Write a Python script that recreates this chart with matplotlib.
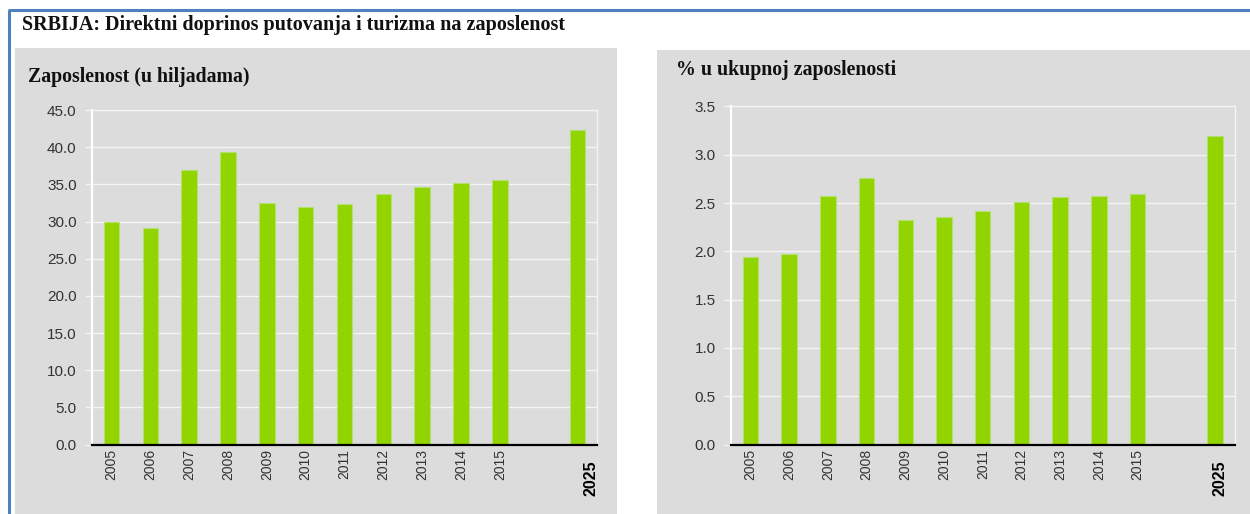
import matplotlib
matplotlib.use("Agg")
import matplotlib.pyplot as plt
from matplotlib.patches import Rectangle
from matplotlib.lines import Line2D
import matplotlib.transforms as mtransforms

# ---- data ----
years = ["2005", "2006", "2007", "2008", "2009", "2010", "2011",
         "2012", "2013", "2014", "2015", "", "2025"]
employment = [29.9, 29.1, 36.9, 39.4, 32.5, 32.0, 32.4, 33.7, 34.6, 35.2, 35.6, None, 42.3]
share = [1.94, 1.97, 2.57, 2.76, 2.32, 2.36, 2.42, 2.51, 2.56, 2.57, 2.59, None, 3.19]

main_title = "SRBIJA: Direktni doprinos putovanja i turizma na zaposlenost"
left_title = "Zaposlenost (u hiljadama)"
right_title = "% u ukupnoj zaposlenosti"
left_ticks = [0, 5, 10, 15, 20, 25, 30, 35, 40, 45]
right_ticks = [0, 0.5, 1.0, 1.5, 2.0, 2.5, 3.0, 3.5]

W, H = 1250, 514
fig = plt.figure(figsize=(W / 100, H / 100), dpi=100)
fig.patch.set_facecolor("white")


def fx(x):
    return x / W


def fy(y):
    return 1 - y / H


def box(x0, y0, x1, y1):
    return [fx(x0), fy(y1), fx(x1) - fx(x0), fy(y0) - fy(y1)]


BG = "#dcdcdc"
GREEN = "#92d400"
EDGE = "#b4e070"
BLUE = "#4f81bd"

# gray panels
fig.add_artist(Rectangle((fx(15), fy(514)), fx(617) - fx(15), fy(48) - fy(514),
                         transform=fig.transFigure, facecolor=BG, edgecolor="none", zorder=0))
fig.add_artist(Rectangle((fx(657), fy(514)), fx(1250) - fx(657), fy(50) - fy(514),
                         transform=fig.transFigure, facecolor=BG, edgecolor="none", zorder=0))

# blue frame
fig.add_artist(Line2D([fx(9), fx(9)], [fy(10), fy(514)], transform=fig.transFigure,
                      color=BLUE, lw=2.2, solid_capstyle="butt"))
fig.add_artist(Line2D([fx(8), fx(1250)], [fy(10), fy(10)], transform=fig.transFigure,
                      color=BLUE, lw=2.2, solid_capstyle="butt"))

fig.text(fx(22), fy(25), main_title, family="Liberation Serif", weight="bold",
         fontsize=14.5, va="center", ha="left", color="#111111")
fig.text(fx(28), fy(77), left_title, family="Liberation Serif", weight="bold",
         fontsize=14.3, va="center", ha="left", color="#111111")
fig.text(fx(676), fy(70), right_title, family="Liberation Serif", weight="bold",
         fontsize=14.3, va="center", ha="left", color="#111111")


def draw(ax, values, ticks, fmt, ymax, shift_px):
    ax.set_facecolor(BG)
    ax.patch.set_alpha(0)
    xs = [i for i, v in enumerate(values) if v is not None]
    vs = [v for v in values if v is not None]
    ax.bar(xs, vs, width=0.4, color=GREEN, edgecolor=EDGE, linewidth=0.8, zorder=3)
    ax.set_xlim(-0.5, len(values) - 0.5)
    ax.set_ylim(0, ymax)
    ax.set_yticks(ticks)
    ax.set_yticklabels([fmt.format(t) for t in ticks], family="Liberation Sans",
                       fontsize=11, color="#333333")
    ax.yaxis.grid(True, color="#f4f4f4", lw=1.0, zorder=1)
    ax.set_axisbelow(True)
    ax.tick_params(axis="y", length=5, width=1.0, color="#f4f4f4", pad=6)
    ax.set_xticks(range(len(values)))
    ax.set_xticklabels(years, rotation=90, family="Liberation Sans", fontsize=10,
                       color="#333333", va="top")
    ax.tick_params(axis="x", length=0, pad=3)
    lab = ax.get_xticklabels()[-1]
    lab.set_fontweight("bold")
    lab.set_fontsize(11.5)
    lab.set_color("black")
    lab.set_transform(lab.get_transform() + mtransforms.ScaledTranslation(
        shift_px / 100, -12 / 100, fig.dpi_scale_trans))
    for s in ["top", "right"]:
        ax.spines[s].set_color("#f4f4f4")
        ax.spines[s].set_linewidth(1.0)
    ax.spines["left"].set_color("white")
    ax.spines["left"].set_linewidth(1.6)
    ax.spines["bottom"].set_color("black")
    ax.spines["bottom"].set_linewidth(1.6)
    ax.spines["bottom"].set_zorder(5)


ax1 = fig.add_axes(box(92, 110, 597, 444.6))
draw(ax1, employment, left_ticks, "{:.1f}", 45, 13)

ax2 = fig.add_axes(box(731, 106.4, 1234.5, 444.5))
draw(ax2, share, right_ticks, "{:.1f}", 3.5, 5)

fig.savefig("out.png", dpi=100, facecolor="white")
